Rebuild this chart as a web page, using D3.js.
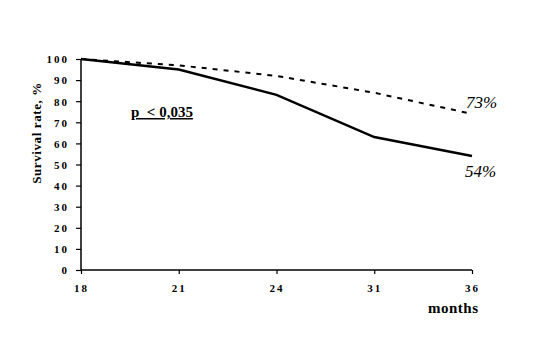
<!DOCTYPE html>
<html>
<head>
<meta charset="utf-8">
<script src="https://cdn.jsdelivr.net/npm/d3@7"></script>
<style>
  body { margin: 0; background: #fff; }
  text { font-family: "Liberation Serif", "Times New Roman", serif; fill: #000; }
</style>
</head>
<body>
<div id="chart"></div>
<script>
const months = ["18", "21", "24", "31", "36"];
const solidValues = [100, 95, 83, 63, 54];
const dashedValues = [100, 97, 92, 84, 74];
const yTicks = [0, 10, 20, 30, 40, 50, 60, 70, 80, 90, 100];

const width = 538;
const height = 359;
const svg = d3.select("#chart")
    .append("svg")
    .attr("width", width)
    .attr("height", height);

const x = d3.scalePoint().domain(months).range([81, 472]);
const y = d3.scaleLinear().domain([0, 100]).range([270, 59]);

// y axis
const yAxis = svg.append("g")
    .attr("transform", "translate(81,0)")
    .call(d3.axisLeft(y).tickValues(yTicks).tickSize(5).tickPadding(7));
yAxis.select(".domain").attr("d", "M0,59V270").attr("stroke", "#000").attr("stroke-width", 1.5);
yAxis.selectAll(".tick line").attr("stroke", "#000").attr("stroke-width", 1.2);
yAxis.selectAll("text")
    .attr("font-size", 11)
    .attr("font-weight", "bold")
    .attr("letter-spacing", "2px")
    .attr("dy", "0.35em")
    .style("font-family", "'Liberation Serif', serif");

// x axis
const xAxis = svg.append("g")
    .attr("transform", "translate(0,270)")
    .call(d3.axisBottom(x).tickSize(4).tickPadding(10));
xAxis.select(".domain").attr("d", "M81,0H472").attr("stroke", "#000").attr("stroke-width", 1.5);
xAxis.selectAll(".tick line").attr("stroke", "#000").attr("stroke-width", 1.2);
xAxis.selectAll("text")
    .attr("font-size", 11)
    .attr("font-weight", "bold")
    .attr("letter-spacing", "2px")
    .style("font-family", "'Liberation Serif', serif");

const line = d3.line()
    .x((d, i) => x(months[i]))
    .y(d => y(d));

svg.append("path")
    .datum(dashedValues)
    .attr("d", line)
    .attr("fill", "none")
    .attr("stroke", "#000")
    .attr("stroke-width", 2)
    .attr("stroke-dasharray", "5,6");

svg.append("path")
    .datum(solidValues)
    .attr("d", line)
    .attr("fill", "none")
    .attr("stroke", "#000")
    .attr("stroke-width", 2.5);

// end labels
svg.append("text")
    .attr("x", 466).attr("y", 108)
    .attr("font-size", 17)
    .attr("font-style", "italic")
    .text("73%");
svg.append("text")
    .attr("x", 465).attr("y", 177)
    .attr("font-size", 17)
    .attr("font-style", "italic")
    .text("54%");

// p-value
svg.append("text")
    .attr("x", 131).attr("y", 117)
    .attr("font-size", 15)
    .attr("font-weight", "bold")
    .attr("text-decoration", "underline")
    .attr("xml:space", "preserve")
    .text("p  < 0,035");

// axis titles
svg.append("text")
    .attr("transform", "translate(41,133) rotate(-90)")
    .attr("text-anchor", "middle")
    .attr("font-size", 13)
    .attr("font-weight", "bold")
    .attr("letter-spacing", "0.6px")
    .text("Survival  rate, %");

svg.append("text")
    .attr("x", 428).attr("y", 313)
    .attr("font-size", 15)
    .attr("font-weight", "bold")
    .attr("letter-spacing", "0.5px")
    .text("months");
</script>
</body>
</html>
